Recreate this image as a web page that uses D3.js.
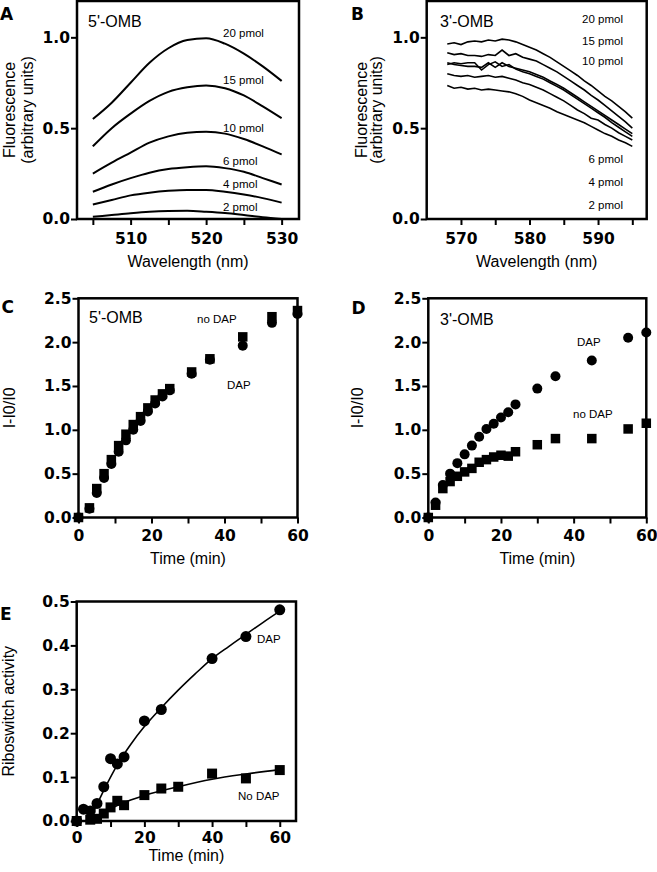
<!DOCTYPE html>
<html>
<head>
<meta charset="utf-8">
<script src="https://d3js.org/d3.v7.min.js"></script>
<style>
  body { margin: 0; background: #fff; }
  svg { display: block; }
  .axis text { font-family: "DejaVu Sans", sans-serif; font-weight: bold; font-size: 15.5px; fill: #000; }
  .axis line { stroke: #000; stroke-width: 2; }
  .title { font-family: "Liberation Sans", Arial, sans-serif; font-size: 16px; }
  .note { font-family: "Liberation Sans", Arial, sans-serif; font-size: 11.5px; }
  .letter { font-family: "DejaVu Sans", sans-serif; font-weight: bold; font-size: 17px; }
</style>
</head>
<body>
<script>
// ---- panel A : 5'-OMB spectra
const wlA = [505, 507.5, 510, 512.5, 515, 517.5, 520, 522.5, 525, 527.5, 530];
const a20 = [0.55, 0.64, 0.75, 0.86, 0.94, 0.985, 0.995, 0.965, 0.91, 0.84, 0.76];
const a15 = [0.40, 0.50, 0.58, 0.65, 0.70, 0.725, 0.735, 0.72, 0.68, 0.62, 0.555];
const a10 = [0.25, 0.31, 0.365, 0.42, 0.455, 0.475, 0.48, 0.47, 0.44, 0.40, 0.355];
const a6 = [0.15, 0.19, 0.225, 0.255, 0.275, 0.285, 0.29, 0.28, 0.26, 0.225, 0.19];
const a4 = [0.08, 0.105, 0.13, 0.145, 0.155, 0.16, 0.16, 0.15, 0.135, 0.115, 0.09];
const a2 = [0.012, 0.022, 0.032, 0.04, 0.044, 0.045, 0.04, 0.033, 0.022, 0.01, 0.0];

// ---- panel B : 3'-OMB spectra
const wlB = [568, 569, 570, 571, 572, 573, 574, 575, 576, 577, 578, 579, 580, 581,
             582, 583, 584, 585, 586, 587, 588, 589, 590, 591, 592, 593, 594, 595];
const b20 = [0.963, 0.97, 0.96, 0.975, 0.98, 0.975, 0.985, 0.98, 0.99, 0.985, 0.975, 0.96, 0.945, 0.93,
             0.91, 0.89, 0.865, 0.84, 0.815, 0.79, 0.76, 0.735, 0.705, 0.675, 0.65, 0.62, 0.59, 0.555];
const b15 = [0.915, 0.905, 0.91, 0.9, 0.9, 0.895, 0.905, 0.9, 0.93, 0.9, 0.91, 0.89, 0.88, 0.87,
             0.85, 0.83, 0.81, 0.785, 0.76, 0.735, 0.71, 0.68, 0.655, 0.625, 0.595, 0.565, 0.535, 0.50];
const b10 = [0.86, 0.85, 0.845, 0.84, 0.84, 0.835, 0.86, 0.835, 0.86, 0.84, 0.83, 0.82, 0.81, 0.795,
             0.78, 0.76, 0.74, 0.72, 0.695, 0.67, 0.645, 0.62, 0.595, 0.57, 0.545, 0.52, 0.495, 0.47];
const b6 = [0.85, 0.86, 0.855, 0.86, 0.86, 0.82, 0.85, 0.865, 0.84, 0.85, 0.825, 0.81, 0.80, 0.785,
            0.77, 0.75, 0.73, 0.71, 0.685, 0.66, 0.635, 0.61, 0.585, 0.56, 0.53, 0.505, 0.48, 0.455];
const b4 = [0.80, 0.79, 0.785, 0.79, 0.78, 0.785, 0.79, 0.78, 0.785, 0.775, 0.765, 0.75, 0.74, 0.725,
            0.71, 0.69, 0.67, 0.65, 0.625, 0.60, 0.58, 0.555, 0.545, 0.52, 0.50, 0.475, 0.455, 0.435];
const b2 = [0.735, 0.72, 0.725, 0.715, 0.72, 0.71, 0.715, 0.71, 0.705, 0.70, 0.69, 0.675, 0.655, 0.64,
            0.625, 0.61, 0.59, 0.575, 0.56, 0.545, 0.53, 0.51, 0.49, 0.47, 0.455, 0.435, 0.42, 0.40];

// ---- panel C : 5'-OMB kinetics
const cTime = [0, 3, 5, 7, 9, 11, 13, 15, 17, 19, 21, 23, 25, 31, 36, 45, 53, 60];
const cDap = [0, 0.1, 0.28, 0.45, 0.61, 0.75, 0.88, 1.0, 1.1, 1.21, 1.3, 1.38, 1.45, 1.64, 1.8, 1.96, 2.22, 2.32];
const cNoDap = [0, 0.11, 0.33, 0.5, 0.66, 0.82, 0.95, 1.06, 1.15, 1.25, 1.34, 1.41, 1.47, 1.66, 1.81, 2.06, 2.29, 2.36];

// ---- panel D : 3'-OMB kinetics
const dTime = [0, 2, 4, 6, 8, 10, 12, 14, 16, 18, 20, 22, 24, 30, 35, 45, 55, 60];
const dDap = [0, 0.17, 0.37, 0.5, 0.62, 0.72, 0.82, 0.92, 1.01, 1.07, 1.14, 1.2, 1.29, 1.47, 1.61, 1.79, 2.05, 2.11];
const dNoDap = [0, 0.14, 0.33, 0.41, 0.47, 0.52, 0.56, 0.63, 0.66, 0.69, 0.71, 0.7, 0.75, 0.83, 0.9, 0.9, 1.01, 1.075];

// ---- panel E : riboswitch activity
const eDapTime = [0, 2, 4, 6, 8, 10, 12, 14, 20, 25, 40, 50, 60];
const eDap = [0, 0.027, 0.023, 0.04, 0.078, 0.142, 0.13, 0.146, 0.228, 0.254, 0.37, 0.42, 0.481];
const eNoTime = [0, 4, 6, 8, 10, 12, 14, 20, 25, 30, 40, 50, 60];
const eNoDap = [0, 0.003, 0.005, 0.017, 0.031, 0.046, 0.036, 0.059, 0.074, 0.078, 0.108, 0.097, 0.116];
// fitted curves
const eFitDapT = [3.5, 5, 8, 12, 16, 20, 25, 30, 35, 40, 45, 50, 55, 60];
const eFitDap = [0, 0.022, 0.07, 0.128, 0.175, 0.215, 0.258, 0.298, 0.335, 0.37, 0.398, 0.425, 0.452, 0.478];
const eFitNoT = [4, 10, 15, 20, 30, 40, 50, 60];
const eFitNo = [0, 0.028, 0.045, 0.058, 0.078, 0.095, 0.107, 0.117];

const svg = d3.select('body').append('svg')
    .attr('width', 657)
    .attr('height', 872);

function panel(c) {
    let x = d3.scaleLinear().domain(c.xd).range(c.xr);
    let y = d3.scaleLinear().domain(c.yd).range(c.yr);

    svg.append('g')
        .attr('class', 'axis')
        .attr('transform', 'translate(' + c.xr[0] + ',0)')
        .call(d3.axisLeft(y).tickValues(c.yt).tickFormat(d3.format('.1f')).tickSize(6).tickPadding(1))
        .call(g => g.select('.domain').remove());

    svg.append('g')
        .attr('class', 'axis')
        .attr('transform', 'translate(0,' + c.yr[0] + ')')
        .call(d3.axisBottom(x).tickValues(c.xt)
            .tickFormat(d => c.xl.includes(d) ? d : '').tickSize(6).tickPadding(c.xpad))
        .call(g => g.select('.domain').remove());

    svg.append('rect')
        .attr('x', c.xr[0]).attr('y', c.yr[1])
        .attr('width', c.xr[1] - c.xr[0]).attr('height', c.yr[0] - c.yr[1])
        .attr('fill', 'none').attr('stroke', '#000').attr('stroke-width', 2.5);

    svg.append('text').attr('class', 'letter').attr('x', c.letter[1]).attr('y', c.letter[2]).text(c.letter[0]);

    svg.append('text').attr('class', 'title')
        .attr('x', (c.xr[0] + c.xr[1]) / 2).attr('y', c.xtitleY)
        .attr('text-anchor', 'middle').text(c.xtitle);

    let cy = (c.yr[0] + c.yr[1]) / 2;
    c.ytitle.forEach(function(t) {
        svg.append('text').attr('class', 'title')
            .attr('transform', 'translate(' + t[1] + ',' + cy + ') rotate(-90)')
            .attr('text-anchor', 'middle').text(t[0]);
    });
    return { x: x, y: y };
}

function note(txt, x, y, cls, anchor) {
    svg.append('text').attr('class', cls || 'note')
        .attr('x', x).attr('y', y)
        .attr('text-anchor', anchor || 'start')
        .text(txt);
}

function spectra(s, wl, series, width) {
    let line = d3.line()
        .x((d, i) => s.x(wl[i]))
        .y(d => s.y(d));
    series.forEach(function(vals) {
        svg.append('path')
            .attr('d', line.curve(width > 1.7 ? d3.curveMonotoneX : d3.curveLinear)(vals))
            .attr('fill', 'none').attr('stroke', '#000').attr('stroke-width', width);
    });
}

function dots(s, t, v, r) {
    svg.append('g').selectAll('circle')
        .data(v)
        .join('circle')
        .attr('cx', (d, i) => s.x(t[i]))
        .attr('cy', d => s.y(d))
        .attr('r', r);
}

function squares(s, t, v, w) {
    svg.append('g').selectAll('rect')
        .data(v)
        .join('rect')
        .attr('x', (d, i) => s.x(t[i]) - w / 2)
        .attr('y', d => s.y(d) - w / 2)
        .attr('width', w).attr('height', w);
}

function fit(s, t, v) {
    svg.append('path')
        .attr('d', d3.line().x((d, i) => s.x(t[i])).y(d => s.y(d)).curve(d3.curveMonotoneX)(v))
        .attr('fill', 'none').attr('stroke', '#000').attr('stroke-width', 1.6);
}

// A
let pA = panel({
    xd: [502.9, 532.3], xr: [77, 299], yd: [0, 1.2], yr: [219, 1],
    yt: [0, 0.5, 1.0], xt: [505, 510, 515, 520, 525, 530], xl: [510, 520, 530], xpad: 8,
    letter: ['A', 0, 20], xtitle: 'Wavelength (nm)', xtitleY: 267,
    ytitle: [['Fluorescence', 15], ['(arbitrary units)', 33]]
});
spectra(pA, wlA, [a20, a15, a10, a6, a4, a2], 2);
note("5'-OMB", 88, 27, 'title');
note('20 pmol', 223, 37);
note('15 pmol', 223, 84);
note('10 pmol', 223, 132);
note('6 pmol', 223, 165);
note('4 pmol', 223, 188);
note('2 pmol', 223, 211);

// B
let pB = panel({
    xd: [565, 597.1], xr: [426.7, 646.7], yd: [0, 1.2], yr: [219, 1],
    yt: [0, 0.5, 1.0], xt: [570, 575, 580, 585, 590, 595], xl: [570, 580, 590], xpad: 8,
    letter: ['B', 351, 20], xtitle: 'Wavelength (nm)', xtitleY: 267,
    ytitle: [['Fluorescence', 367], ['(arbitrary units)', 382]]
});
spectra(pB, wlB, [b20, b15, b10, b6, b4, b2], 1.6);
note("3'-OMB", 440, 27, 'title');
note('20 pmol', 623, 22.5, 'note', 'end');
note('15 pmol', 623, 44.5, 'note', 'end');
note('10 pmol', 623, 65, 'note', 'end');
note('6 pmol', 623, 163, 'note', 'end');
note('4 pmol', 623, 186, 'note', 'end');
note('2 pmol', 623, 209, 'note', 'end');

// C
let pC = panel({
    xd: [0, 60], xr: [78.5, 297.5], yd: [0, 2.5], yr: [517.5, 298.3],
    yt: [0, 0.5, 1.0, 1.5, 2.0, 2.5], xt: [0, 10, 20, 30, 40, 50, 60], xl: [0, 20, 40, 60], xpad: 6,
    letter: ['C', 1.5, 313], xtitle: 'Time (min)', xtitleY: 564,
    ytitle: [['I-I0/I0', 15]]
});
dots(pC, cTime, cDap, 5);
squares(pC, cTime, cNoDap, 9.5);
note("5'-OMB", 89, 323, 'title');
note('no DAP', 197, 323);
note('DAP', 227, 389);

// D
let pD = panel({
    xd: [0, 60], xr: [428.3, 646.3], yd: [0, 2.5], yr: [517.5, 298.3],
    yt: [0, 0.5, 1.0, 1.5, 2.0, 2.5], xt: [0, 10, 20, 30, 40, 50, 60], xl: [0, 20, 40, 60], xpad: 6,
    letter: ['D', 351.5, 314], xtitle: 'Time (min)', xtitleY: 564,
    ytitle: [['I-I0/I0', 363]]
});
dots(pD, dTime, dDap, 5);
squares(pD, dTime, dNoDap, 9.5);
note("3'-OMB", 440, 325, 'title');
note('DAP', 577, 346);
note('no DAP', 573, 418);

// E
let pE = panel({
    xd: [0, 64.8], xr: [76.7, 296], yd: [0, 0.5], yr: [821, 601.5],
    yt: [0, 0.1, 0.2, 0.3, 0.4, 0.5], xt: [0, 10, 20, 30, 40, 50, 60], xl: [0, 20, 40, 60], xpad: 5,
    letter: ['E', 0, 620], xtitle: 'Time (min)', xtitleY: 861,
    ytitle: [['Riboswitch activity', 14]]
});
fit(pE, eFitDapT, eFitDap);
fit(pE, eFitNoT, eFitNo);
dots(pE, eDapTime, eDap, 5.5);
squares(pE, eNoTime, eNoDap, 10);
note('DAP', 257, 643);
note('No DAP', 238, 800);
</script>
</body>
</html>
